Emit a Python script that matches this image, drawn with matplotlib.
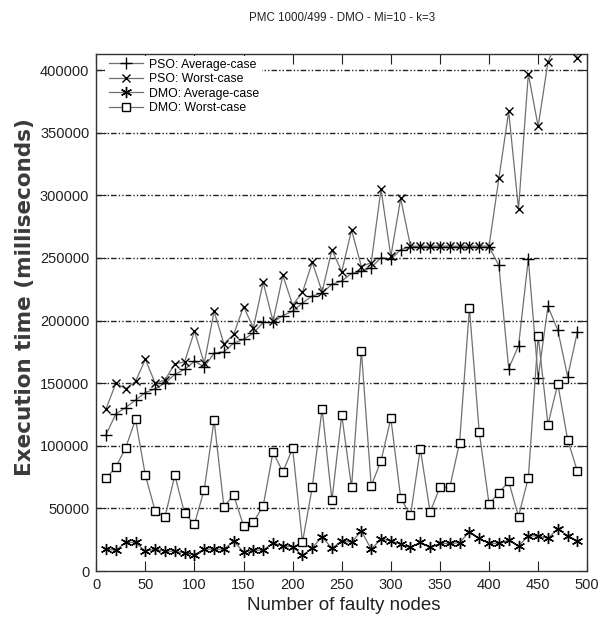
import matplotlib
matplotlib.use('Agg')
import matplotlib.pyplot as plt

# Values (x = number of faulty nodes)
nodes = list(range(10, 500, 10))

pso_avg = [109000, 125500, 130500, 136500, 142500, 145500, 150000, 157000, 161000, 167500,
           163000, 174000, 175000, 182000, 185000, 190000, 198500, 198500, 204000, 207500,
           214000, 219700, 222000, 229000, 231700, 237600, 239200, 242300, 250300, 249000,
           256600, 259000, 259000, 259000, 259000, 259000, 259000, 259000, 259000, 259000,
           244000, 161700, 179800, 249100, 154500, 211300, 192300, 155300, 191000]

pso_worst = [129500, 150000, 145500, 151500, 169000, 150000, 152500, 165500, 167000, 191500,
             166000, 207500, 181400, 188900, 211200, 194200, 230600, 199500, 236000, 212500,
             222500, 246500, 223000, 256400, 239100, 272300, 243100, 246300, 305000, 251200,
             297500, 259500, 259500, 259500, 259500, 259500, 259500, 259500, 259500, 259500,
             313500, 367000, 289000, 397000, 355000, 406500, 425000, 435000, 409500]

dmo_avg = [17400, 16600, 22800, 22800, 15800, 17400, 15800, 15800, 14500, 13100,
           17400, 17400, 17400, 23900, 15000, 16600, 16600, 22500, 19800, 19500,
           12400, 18500, 27400, 18000, 24100, 23000, 31900, 17400, 25500, 24100,
           21400, 18800, 23000, 18800, 22000, 22000, 22500, 31400, 26000, 22000,
           22000, 24500, 20000, 28000, 28000, 26100, 33800, 28000, 24000]

dmo_worst = [74000, 83000, 98500, 121000, 76500, 48000, 43000, 76500, 46000, 37500,
             65000, 120500, 51500, 60500, 36000, 39000, 52000, 95000, 79000, 98000,
             23000, 67000, 129500, 56500, 124500, 67000, 176000, 68000, 88000, 122000,
             58500, 44500, 97500, 47000, 67000, 67000, 102500, 210000, 111000, 53500,
             62500, 71500, 43500, 74500, 188000, 117000, 149500, 105000, 79500]

series_labels = ['PSO: Average-case', 'PSO: Worst-case', 'DMO: Average-case', 'DMO: Worst-case']
yticks = [0, 50000, 100000, 150000, 200000, 250000, 300000, 350000, 400000]
xticks = [0, 50, 100, 150, 200, 250, 300, 350, 400, 450, 500]

plt.rcParams['font.family'] = ['Liberation Sans', 'DejaVu Sans']

fig = plt.figure(figsize=(6.13, 6.27), dpi=100)
ax = fig.add_axes([0.157, 0.0893, 0.801, 0.8238])

line_col = '#707070'
styles = [
    dict(marker='+', markersize=8, markerfacecolor='none'),
    dict(marker='x', markersize=6, markerfacecolor='none'),
    dict(marker=(6, 2, 0), markersize=8, markerfacecolor='none'),
    dict(marker='s', markersize=5.5, markerfacecolor='white'),
]
data = [pso_avg, pso_worst, dmo_avg, dmo_worst]

for vals, lab, st in zip(data, series_labels, styles):
    ax.plot(nodes, vals, color=line_col, linewidth=0.9, markeredgecolor='black',
            markeredgewidth=1.0, label=lab, zorder=3, **st)

# horizontal dash-dot-dot grid
for yv in yticks[1:]:
    ax.axhline(yv, color='#222222', linewidth=1.0, linestyle=(0, (4, 1.5, 1, 1.5, 1, 1.5)), zorder=1)

ax.set_xlim(0, 500)
ax.set_ylim(0, 412500)
ax.set_xticks(xticks)
ax.set_yticks(yticks)
ax.set_xticklabels([str(v) for v in xticks])
ax.set_yticklabels([str(v) for v in yticks])
ax.tick_params(direction='in', length=7, width=0.8, top=True, right=True, labelsize=10.5,
               colors='#222222', pad=5)
for sp in ax.spines.values():
    sp.set_linewidth(1.0)
    sp.set_color('#333333')

ax.set_xlabel('Number of faulty nodes', fontsize=13.5, color='#222222')
ax.xaxis.set_label_coords(0.5046, -0.05)
ax.set_ylabel('Execution time (milliseconds)', fontsize=15.5, fontweight='bold',
              family=['DejaVu Sans'], color='#3a3a3a')
ax.yaxis.set_label_coords(-0.125, 0.53)
ax.set_title('PMC 1000/499 - DMO - Mi=10 - k=3', fontsize=8.3, color='#222222', pad=24)

leg = ax.legend(loc='upper left', bbox_to_anchor=(0.0163, 1.0), fontsize=8.8, frameon=True,
                framealpha=1, edgecolor='none', fancybox=False,
                handlelength=2.8, handletextpad=0.5, labelspacing=0.2, borderpad=0.25,
                borderaxespad=0.1)
leg.set_zorder(5)

fig.savefig('out.png', dpi=100)
